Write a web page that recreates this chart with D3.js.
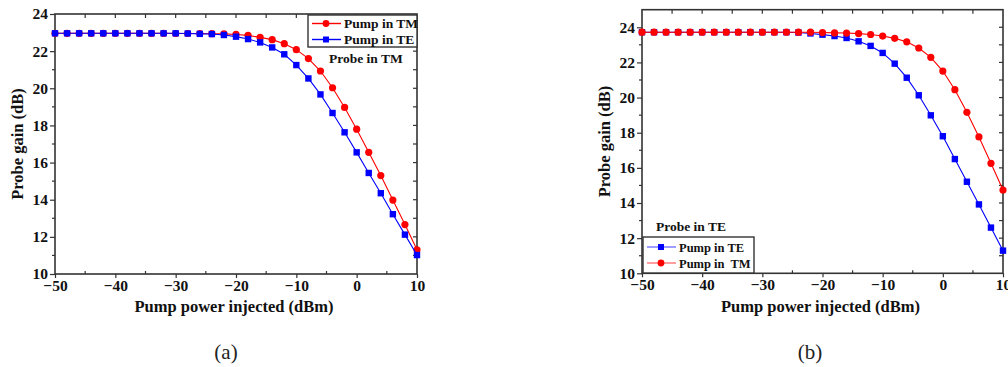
<!DOCTYPE html>
<html>
<head>
<meta charset="utf-8">
<script src="https://cdn.jsdelivr.net/npm/d3@7"></script>
<style>
  html, body { margin: 0; padding: 0; background: #fff; }
  svg { display: block; }
  .tick-label, .axis-title, .legend-text, .note {
    font-family: 'Liberation Serif', 'Times New Roman', serif;
    font-weight: bold;
    fill: #111;
  }
  .tick-label { font-size: 15.5px; }
  .axis-title { font-size: 16.5px; }
  .legend-text, .note { font-size: 13.5px; }
  .caption { font-family: 'Liberation Serif', serif; font-size: 21px; fill: #222; }
</style>
</head>
<body>
<div id="chart"></div>
<script>
// 泵浦功率 (dBm)
const pumpPower = [-50, -48, -46, -44, -42, -40, -38, -36, -34, -32, -30, -28, -26, -24, -22, -20,
  -18, -16, -14, -12, -10, -8, -6, -4, -2, 0, 2, 4, 6, 8, 10];

// (a) probe in TM
const gainA_TM = [22.96, 22.96, 22.96, 22.96, 22.96, 22.96, 22.96, 22.96, 22.96, 22.96, 22.95, 22.95,
  22.95, 22.94, 22.93, 22.9, 22.85, 22.74, 22.62, 22.4, 22.08, 21.6, 20.93, 20.03, 18.97, 17.8,
  16.55, 15.3, 13.98, 12.66, 11.3];
const gainA_TE = [22.96, 22.96, 22.96, 22.96, 22.96, 22.96, 22.96, 22.96, 22.96, 22.96, 22.96, 22.95,
  22.93, 22.92, 22.87, 22.78, 22.65, 22.47, 22.2, 21.83, 21.25, 20.53, 19.67, 18.67, 17.63, 16.55,
  15.44, 14.35, 13.22, 12.12, 11.02];

// (b) probe in TE
const gainB_TM = [23.72, 23.72, 23.72, 23.72, 23.72, 23.72, 23.72, 23.72, 23.72, 23.72, 23.72, 23.72,
  23.72, 23.72, 23.72, 23.7, 23.68, 23.67, 23.64, 23.59, 23.5, 23.37, 23.17, 22.82, 22.29, 21.51,
  20.45, 19.16, 17.76, 16.26, 14.74];
const gainB_TE = [23.72, 23.72, 23.72, 23.72, 23.72, 23.72, 23.72, 23.72, 23.72, 23.72, 23.72, 23.72,
  23.72, 23.7, 23.65, 23.58, 23.5, 23.39, 23.2, 22.94, 22.54, 21.93, 21.13, 20.13, 18.99, 17.8,
  16.5, 15.21, 13.92, 12.6, 11.29];

const xTicks = [-50, -40, -30, -20, -10, 0, 10];
const yTicks = [10, 12, 14, 16, 18, 20, 22, 24];
const xTitle = 'Pump power injected (dBm)';
const yTitle = 'Probe gain (dB)';

const RED = '#ff0000', BLUE = '#0000ff', AXIS = '#333';

const svg = d3
  .select('#chart')
  .append('svg')
  .attr('width', 1008)
  .attr('height', 367);

const toSeries = (vals) => pumpPower.map((p, i) => [p, vals[i]]);

const drawPanel = (cfg) => {
  const g = svg.append('g');
  const x = d3.scaleLinear().domain([-50, 10]).range([cfg.left, cfg.right]);
  const y = d3.scaleLinear().domain(cfg.yDomain).range([cfg.bottom, cfg.top]);

  // 坐标轴
  const bottom = g.append('g').attr('transform', `translate(0,${cfg.bottom})`)
    .call(d3.axisBottom(x).tickValues(xTicks).tickSize(4).tickPadding(2).tickFormat(d3.format('d')));
  const left = g.append('g').attr('transform', `translate(${cfg.left},0)`)
    .call(d3.axisLeft(y).tickValues(yTicks).tickSize(5).tickPadding(2));
  [bottom, left].forEach((a) => {
    a.select('.domain').remove();
    a.selectAll('.tick line').attr('stroke', AXIS).attr('stroke-width', 1.2);
    a.selectAll('.tick text').attr('class', 'tick-label').attr('font-size', null).attr('font-family', null);
  });

  // minor ticks
  const minorX = d3.range(-45, 10, 10);
  g.selectAll(null).data(minorX).enter().append('line')
    .attr('x1', (d) => x(d)).attr('x2', (d) => x(d))
    .attr('y1', cfg.bottom).attr('y2', cfg.bottom - 3)
    .attr('stroke', AXIS).attr('stroke-width', 1.2);
  const minorY = d3.range(11, cfg.yDomain[1], 2);
  g.selectAll(null).data(minorY).enter().append('line')
    .attr('x1', cfg.left).attr('x2', cfg.left - 3)
    .attr('y1', (d) => y(d)).attr('y2', (d) => y(d))
    .attr('stroke', AXIS).attr('stroke-width', 1.2);

  // top / right inward ticks
  g.selectAll(null).data(d3.range(-45, 10, 5)).enter().append('line')
    .attr('x1', (d) => x(d)).attr('x2', (d) => x(d))
    .attr('y1', cfg.top).attr('y2', cfg.top + 4)
    .attr('stroke', AXIS).attr('stroke-width', 1.2);
  g.selectAll(null).data(d3.range(11, cfg.yDomain[1], 1)).enter().append('line')
    .attr('x1', cfg.right).attr('x2', cfg.right - 4)
    .attr('y1', (d) => y(d)).attr('y2', (d) => y(d))
    .attr('stroke', AXIS).attr('stroke-width', 1.2);

  g.append('rect')
    .attr('x', cfg.left).attr('y', cfg.top)
    .attr('width', cfg.right - cfg.left).attr('height', cfg.bottom - cfg.top)
    .attr('fill', 'none').attr('stroke', AXIS).attr('stroke-width', 1.6);

  const line = d3.line().x((d) => x(d[0])).y((d) => y(d[1]));

  cfg.series.forEach((s) => {
    const data = toSeries(s.values);
    g.append('path').datum(data)
      .attr('fill', 'none').attr('stroke', s.color).attr('stroke-width', 1.1)
      .attr('d', line);
    if (s.marker === 'circle') {
      g.selectAll(null).data(data).enter().append('circle')
        .attr('cx', (d) => x(d[0])).attr('cy', (d) => y(d[1]))
        .attr('r', 3.6).attr('fill', s.color);
    } else {
      g.selectAll(null).data(data).enter().append('rect')
        .attr('x', (d) => x(d[0]) - 3.2).attr('y', (d) => y(d[1]) - 3.2)
        .attr('width', 6.4).attr('height', 6.4).attr('fill', s.color);
    }
  });

  // 轴标题
  g.append('text').attr('class', 'axis-title')
    .attr('x', (cfg.left + cfg.right) / 2 - 2).attr('y', 312)
    .attr('text-anchor', 'middle').text(xTitle);
  g.append('text').attr('class', 'axis-title')
    .attr('transform', `translate(${cfg.left - 32},${(cfg.top + cfg.bottom) / 2}) rotate(-90)`)
    .attr('text-anchor', 'middle').text(yTitle);

  // legend
  const lg = cfg.legend;
  g.append('rect')
    .attr('x', lg.x).attr('y', lg.y).attr('width', lg.w).attr('height', lg.h)
    .attr('fill', '#fff').attr('stroke', AXIS).attr('stroke-width', 1.4);
  lg.items.forEach((it, i) => {
    const cy = lg.y + lg.row0 + i * 16;
    g.append('line')
      .attr('x1', lg.x + 4).attr('x2', lg.x + 33)
      .attr('y1', cy).attr('y2', cy)
      .attr('stroke', it.color).attr('stroke-opacity', lg.fade ? 0.55 : 1).attr('stroke-width', 1.4);
    if (it.marker === 'circle') {
      g.append('circle').attr('cx', lg.x + 18).attr('cy', cy).attr('r', 3.4).attr('fill', it.color);
    } else {
      g.append('rect').attr('x', lg.x + 15).attr('y', cy - 3).attr('width', 6).attr('height', 6).attr('fill', it.color);
    }
    g.append('text').attr('class', 'legend-text')
      .attr('x', lg.x + 36).attr('y', cy + 4.5)
      .style('font-size', lg.fontSize)
      .style('white-space', 'pre').text(it.label);
  });
  g.append('text').attr('class', 'note')
    .attr('x', cfg.note.x).attr('y', cfg.note.y).text(cfg.note.text);

  g.append('text').attr('class', 'caption')
    .attr('x', cfg.caption.x).attr('y', 359)
    .attr('text-anchor', 'middle').text(cfg.caption.text);
};

drawPanel({
  left: 55, right: 417, top: 14, bottom: 274, yDomain: [10, 24],
  series: [
    { values: gainA_TM, color: RED, marker: 'circle' },
    { values: gainA_TE, color: BLUE, marker: 'square' },
  ],
  legend: {
    x: 308, y: 15, w: 109, h: 32, row0: 8.5, fade: false, fontSize: '13.5px',
    items: [
      { label: 'Pump in TM', color: RED, marker: 'circle' },
      { label: 'Pump in TE', color: BLUE, marker: 'square' },
    ],
  },
  note: { x: 329, y: 63, text: 'Probe in TM' },
  caption: { x: 226, text: '(a)' },
});

drawPanel({
  left: 642, right: 1003, top: 9.7, bottom: 273.3, yDomain: [10, 25],
  series: [
    { values: gainB_TE, color: BLUE, marker: 'square' },
    { values: gainB_TM, color: RED, marker: 'circle' },
  ],
  legend: {
    x: 643, y: 237, w: 111, h: 36, row0: 10, fade: true, fontSize: '12.5px',
    items: [
      { label: 'Pump in TE', color: BLUE, marker: 'square' },
      { label: 'Pump in  TM', color: RED, marker: 'circle' },
    ],
  },
  note: { x: 656, y: 231, text: 'Probe in TE' },
  caption: { x: 810, text: '(b)' },
});
</script>
</body>
</html>
